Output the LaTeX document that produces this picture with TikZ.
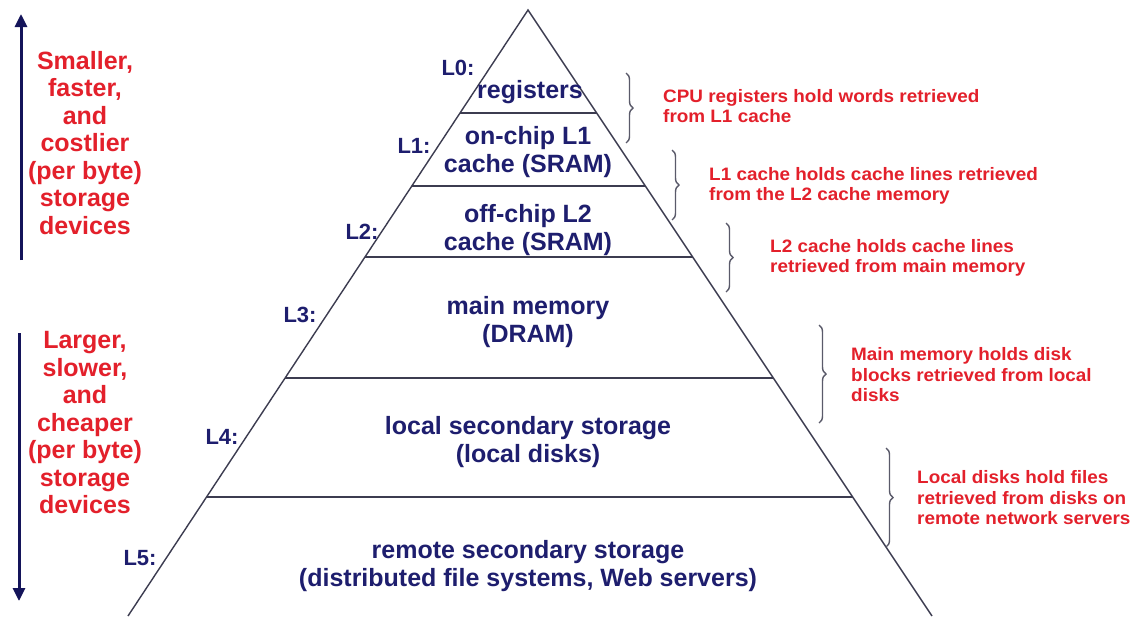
\documentclass[tikz,border=0pt]{standalone}
\usepackage{fontspec}
\setmainfont{Liberation Sans}
\newfontfamily\annfont{Liberation Sans}[FakeStretch=1.05]
\usetikzlibrary{calc,decorations.pathreplacing,arrows.meta}
\definecolor{navy}{HTML}{1E1E6E}
\definecolor{redtxt}{HTML}{E3202B}
\definecolor{edgec}{HTML}{3C3C50}
\definecolor{bracec}{HTML}{5A5A6A}
\definecolor{arrowc}{HTML}{14145A}
\begin{document}
\begin{tikzpicture}[x=1pt,y=-1pt,
  lvl/.style={font=\fontsize{25}{28}\selectfont\bfseries, text=navy, align=center, inner sep=0pt},
  lbl/.style={font=\fontsize{22}{24}\selectfont\bfseries, text=navy, inner sep=0pt},
  side/.style={font=\fontsize{25}{27.5}\selectfont\bfseries, text=redtxt, align=center, inner sep=0pt},
  ann/.style={font=\annfont\fontsize{18}{20.5}\selectfont\bfseries, text=redtxt, align=left, inner sep=0pt, anchor=west},
  edge/.style={draw=edgec, line width=1.4pt},
  brc/.style={draw=bracec, line width=1.4pt, decorate, decoration={brace, amplitude=7pt}},
  arr/.style={draw=arrowc, line width=3pt, -{Triangle[length=13pt,width=12pt]}}]
\useasboundingbox (0,0) rectangle (1137,616);
\fill[white] (0,0) rectangle (1137,616);
% pyramid
\coordinate (apex) at (528,10);
\coordinate (bl) at (128,616);
\coordinate (br) at (932,616);
\draw[edge] (bl) -- (apex) -- (br);
\foreach \t in {0.16997,0.29043,0.40759,0.60726,0.80363}
  \draw[edge] ($(apex)!\t!(bl)$) -- ($(apex)!\t!(br)$);
% level texts
\node[lvl] (reg) at (530,92) {registers};
\node[lvl] (l1c) at (528,152) {on-chip L1\\cache (SRAM)};
\node[lvl] (l2c) at (528,230) {off-chip L2\\cache (SRAM)};
\node[lvl] (mm) at (528,322) {main memory\\(DRAM)};
\node[lvl] (lss) at (528,442) {local secondary storage\\(local disks)};
\node[lvl] (rss) at (528,566) {remote secondary storage\\(distributed file systems, Web servers)};
% level labels
\node[lbl] (L0) at (458,68) {L0:};
\node[lbl] (L1) at (414,146) {L1:};
\node[lbl] (L2) at (362,232) {L2:};
\node[lbl] (L3) at (300,315) {L3:};
\node[lbl] (L4) at (222,437) {L4:};
\node[lbl] (L5) at (140,558) {L5:};
% left side
\coordinate (upb) at (21,260);
\coordinate (upt) at (21,14);
\draw[arr] (upb) -- (upt);
\coordinate (dnt) at (19,333);
\coordinate (dnb) at (19,601);
\draw[arr] (dnt) -- (dnb);
\node[side] (small) at (85,143) {Smaller,\\faster,\\and\\costlier\\(per byte)\\storage\\devices};
\node[side] (large) at (85,423) {Larger,\\slower,\\and\\cheaper\\(per byte)\\storage\\devices};
% braces
\coordinate (b1t) at (626,73);  \coordinate (b1b) at (626,143);
\coordinate (b2t) at (672,150); \coordinate (b2b) at (672,220);
\coordinate (b3t) at (726,223); \coordinate (b3b) at (726,292);
\coordinate (b4t) at (819,325); \coordinate (b4b) at (819,423);
\coordinate (b5t) at (886,448); \coordinate (b5b) at (886,547);
\draw[brc] (b1t) -- (b1b);
\draw[brc] (b2t) -- (b2b);
\draw[brc] (b3t) -- (b3b);
\draw[brc] (b4t) -- (b4b);
\draw[brc] (b5t) -- (b5b);
% annotations
\node[ann] (a1) at (663,106) {CPU registers hold words retrieved\\from L1 cache};
\node[ann] (a2) at (709,186) {L1 cache holds cache lines retrieved\\from the L2 cache memory};
\node[ann] (a3) at (770,258) {L2 cache holds cache lines\\retrieved from main memory};
\node[ann] (a4) at (851,375) {Main memory holds disk\\blocks retrieved from local\\disks};
\node[ann] (a5) at (917,498) {Local disks hold files\\retrieved from disks on\\remote network servers};
\end{tikzpicture}
\end{document}
